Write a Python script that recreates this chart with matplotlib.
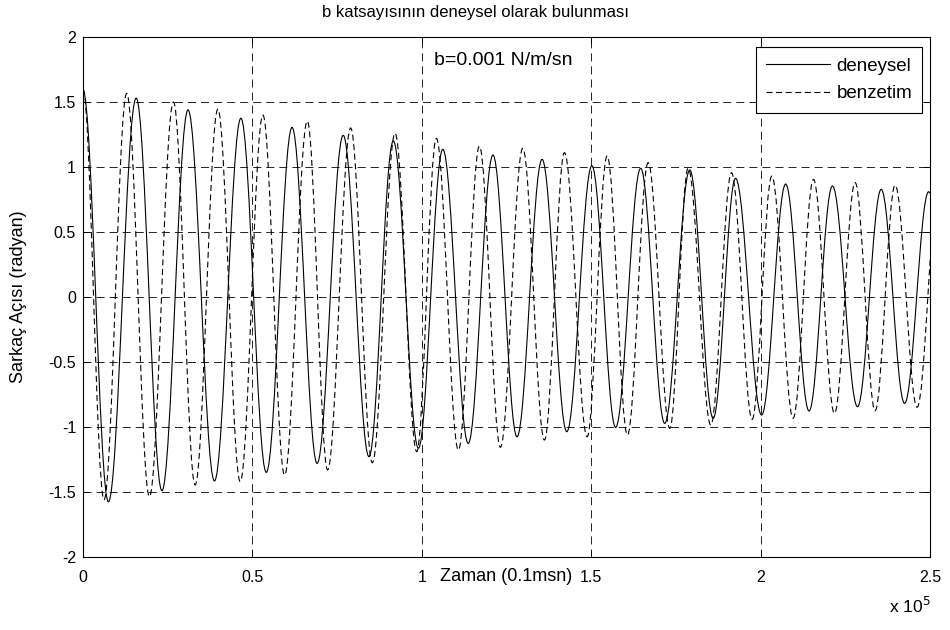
import matplotlib
matplotlib.use('Agg')
import matplotlib.pyplot as plt
from matplotlib.path import Path
from matplotlib.patches import PathPatch
from matplotlib.lines import Line2D
from matplotlib.ticker import FuncFormatter

plt.rcParams['font.family'] = ['Liberation Sans', 'DejaVu Sans']
plt.rcParams['lines.scale_dashes'] = False

# tepe / cukur noktalari (zaman: 0.1 msn, aci: radyan)
deneysel_t = [0, 7500, 15700, 23300, 31000, 38800, 46600, 54100, 61700, 69100,
              76800, 84400, 91600, 99000, 106200, 113700, 121000, 128100, 135500,
              142800, 150200, 157200, 164600, 171700, 179100, 186000, 192600,
              200300, 207400, 214300, 221200, 228600, 235600, 242500, 249600, 250000]
deneysel_y = [1.59, -1.575, 1.53, -1.49, 1.44, -1.415, 1.375, -1.349, 1.305, -1.28,
              1.244, -1.228, 1.20, -1.164, 1.136, -1.126, 1.092, -1.075, 1.059,
              -1.036, 1.01, -1.003, 0.99, -0.972, 0.977, -0.933, 0.913,
              -0.908, 0.869, -0.877, 0.854, -0.844, 0.828, -0.818, 0.81, 0.80]

benzetim_t = [0, 6200, 12900, 19600, 26700, 33100, 39800, 46400, 53100, 59500,
              66200, 72200, 79000, 85400, 92100, 98500, 104300, 110800, 117000,
              123200, 129800, 136200, 142100, 148800, 154700, 160700, 166800,
              173200, 178600, 185300, 191400, 197500, 203300, 209600, 215600,
              221800, 227900, 233800, 239700, 246200, 252500]
benzetim_y = [1.60, -1.56, 1.567, -1.536, 1.50, -1.446, 1.446, -1.42, 1.40, -1.37,
              1.354, -1.33, 1.30, -1.275, 1.26, -1.19, 1.22, -1.177, 1.16,
              -1.156, 1.144, -1.10, 1.11, -1.075, 1.085, -1.062, 1.033,
              -1.01, 0.99, -0.985, 0.956, -0.941, 0.93, -0.933, 0.905,
              -0.895, 0.88, -0.875, 0.86, -0.848, 0.84]

x_ticks = [0, 50000, 100000, 150000, 200000, 250000]
y_ticks = [-2, -1.5, -1, -0.5, 0, 0.5, 1, 1.5, 2]


def salinim_yolu(t, y):
    # ardisik tepe/cukur arasini yarim kosinus benzeri Bezier egrisiyle bagla
    k = 0.3634
    verts = [(t[0], y[0])]
    codes = [Path.MOVETO]
    for i in range(1, len(t)):
        dt = t[i] - t[i - 1]
        verts += [(t[i - 1] + k * dt, y[i - 1]), (t[i] - k * dt, y[i]), (t[i], y[i])]
        codes += [Path.CURVE4] * 3
    return Path(verts, codes)


fig = plt.figure(figsize=(9.5, 6.3), dpi=100)
ax = fig.add_axes([83 / 950, 1 - 557 / 630, 847 / 950, 520 / 630])

solid_style = dict(color='black', lw=0.8, linestyle='-')
dash_style = dict(color='black', lw=0.8, linestyle=(0, (4.3, 2.6)))

ax.add_patch(PathPatch(salinim_yolu(deneysel_t, deneysel_y), fill=False,
                       edgecolor='black', lw=0.8, linestyle='-'))
ax.add_patch(PathPatch(salinim_yolu(benzetim_t, benzetim_y), fill=False,
                       edgecolor='black', lw=0.8, linestyle=(0, (4.3, 2.6))))

ax.set_xlim(0, 250000)
ax.set_ylim(-2, 2)
ax.set_xticks(x_ticks)
ax.set_yticks(y_ticks)
ax.xaxis.set_major_formatter(FuncFormatter(lambda v, p: '%g' % (v / 1e5)))
ax.yaxis.set_major_formatter(FuncFormatter(lambda v, p: '%g' % v))

ax.grid(True, color='black', lw=0.6, linestyle=(0, (5.8, 3.6)))
ax.tick_params(direction='in', length=4, width=0.7, top=True, right=True,
               labelsize=11.5, pad=5)
ax.tick_params(axis='x', pad=9)
for s in ax.spines.values():
    s.set_linewidth(0.8)

ax.set_xlabel('Zaman (0.1msn)', fontsize=13)
ax.xaxis.set_label_coords(0.5, -0.022)
ax.set_ylabel('Sarkaç Açısı (radyan)', fontsize=13)
ax.yaxis.set_label_coords(-0.066, 0.5)

fig.text(0.5, 1 - 12 / 630, 'b katsayısının deneysel olarak bulunması',
         ha='center', va='center', fontsize=12)
fig.text(889 / 950, 1 - 606 / 630, r'x 10$^5$', ha='left', va='center', fontsize=12.5)

ax.text(103500, 1.823, 'b=0.001 N/m/sn', ha='left', va='center', fontsize=14)

handles = [Line2D([], [], **solid_style), Line2D([], [], **dash_style)]
leg = ax.legend(handles, ['deneysel', 'benzetim'], loc='upper right',
                bbox_to_anchor=(0.991, 0.980), borderaxespad=0, fontsize=13.5,
                handlelength=3.4, handletextpad=0.35, labelspacing=0.55,
                borderpad=0.55, fancybox=False, framealpha=1, edgecolor='black')
leg.get_frame().set_linewidth(0.8)

fig.savefig('out.png', dpi=100)
